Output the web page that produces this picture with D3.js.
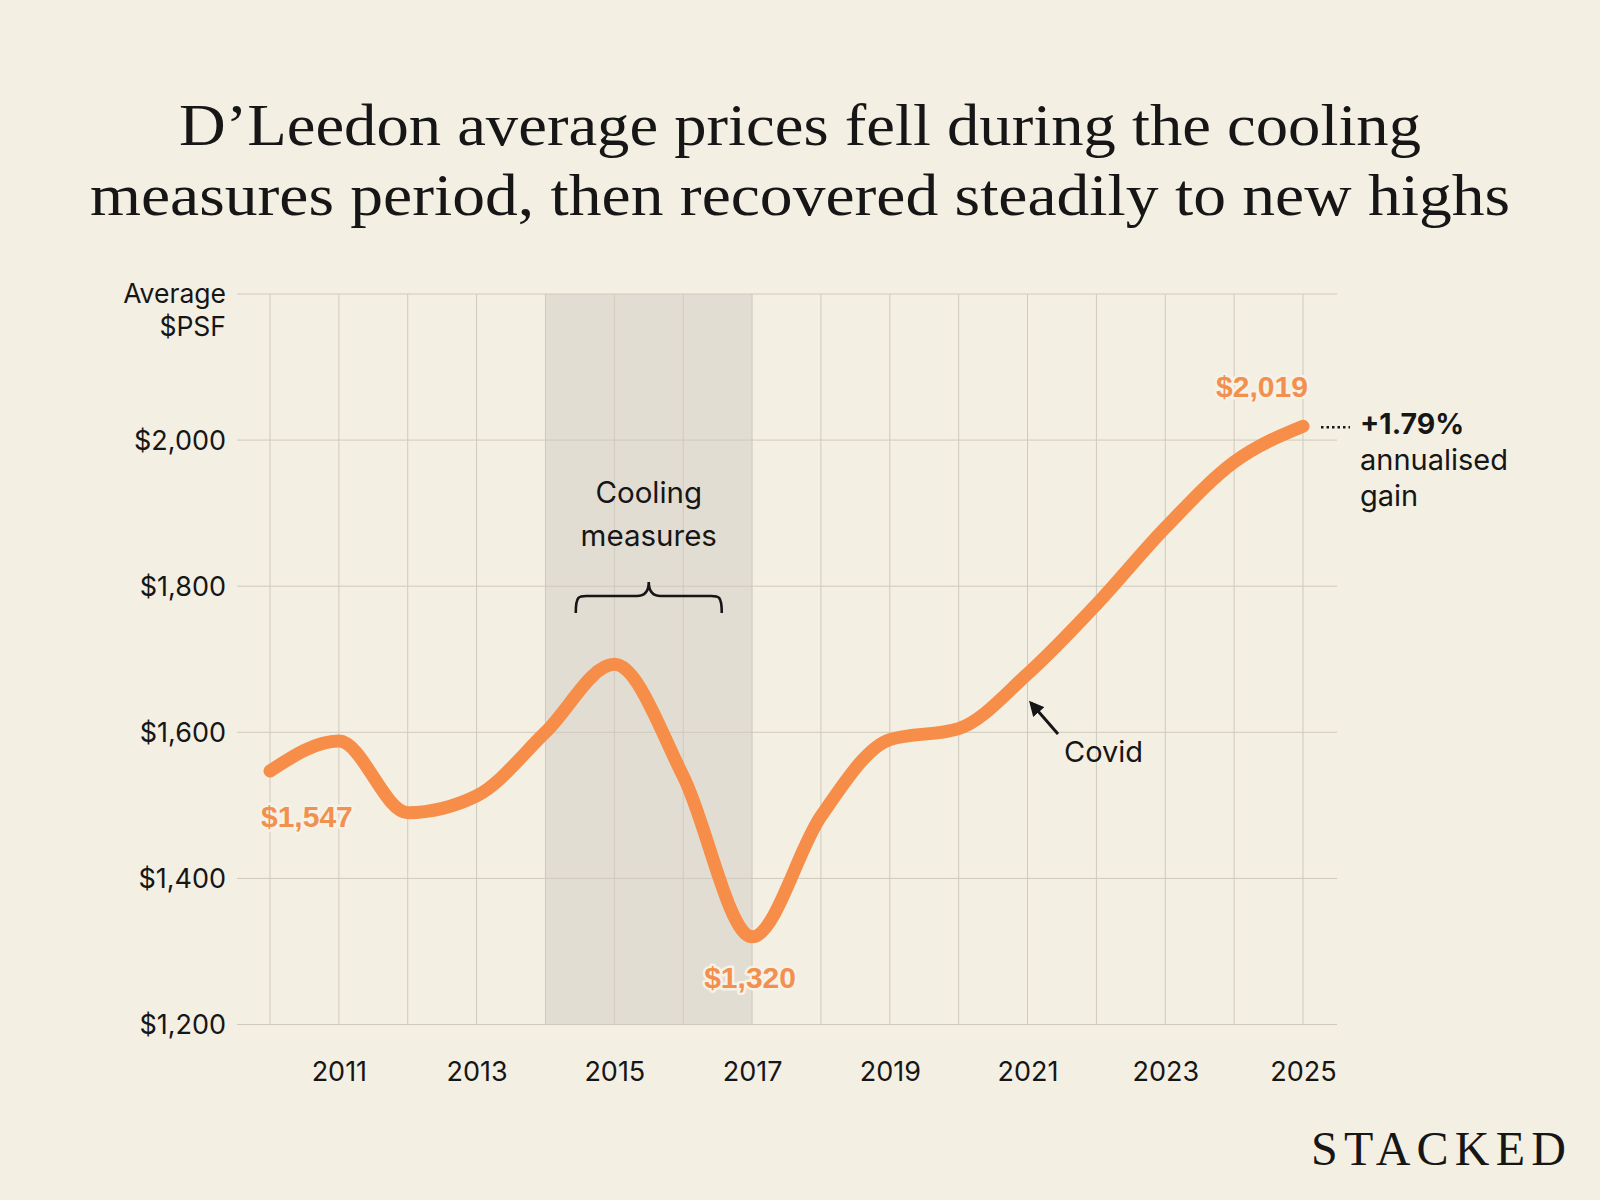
<!DOCTYPE html>
<html>
<head>
<meta charset="utf-8">
<script src="https://cdn.jsdelivr.net/npm/d3@7"></script>
<style>
  html, body { margin: 0; padding: 0; background: #f4efe3; }
  svg { display: block; }
</style>
</head>
<body>
<svg id="chart" width="1600" height="1200"></svg>
<script>
// ---- Data ----
const years = [2010, 2011, 2012, 2013, 2014, 2015, 2016, 2017, 2018, 2019, 2020, 2021, 2022, 2023, 2024, 2025];
const avgPsf = [1547, 1588, 1490, 1513, 1600, 1693, 1540, 1320, 1485, 1590, 1605, 1680, 1775, 1880, 1970, 2019];
const yTicks = [1200, 1400, 1600, 1800, 2000];
const yGrid = [1200, 1400, 1600, 1800, 2000, 2200];
const xTickLabels = [2011, 2013, 2015, 2017, 2019, 2021, 2023, 2025];
const coolingPeriod = [2014, 2017];
const titleLines = ["D\u2019Leedon average prices fell during the cooling", "measures period, then recovered steadily to new highs"];

const svg = d3.select("#chart");
const W = 1600, H = 1200;
const sans = "Inter, 'Liberation Sans', Arial, sans-serif";
const serif = "'Liberation Serif', 'DejaVu Serif', serif";
const orange = "#f68d48";
const labelOrange = "#f2904f";
const ink = "#161616";

svg.append("rect").attr("width", W).attr("height", H).attr("fill", "#f4efe3");

const x = d3.scaleLinear().domain([2010, 2025]).range([270, 1303]);
const y = d3.scaleLinear().domain([1200, 2200]).range([1024.5, 294]);
const gridLeft = 237, gridRight = 1337;

// Title
svg.append("g").selectAll("text").data(titleLines).join("text")
  .attr("x", W / 2)
  .attr("y", (d, i) => 145 + i * 70)
  .attr("text-anchor", "middle")
  .attr("font-family", serif)
  .attr("font-size", 60)
  .attr("fill", ink)
  .attr("textLength", (d, i) => i === 0 ? 1242 : 1420)
  .attr("lengthAdjust", "spacingAndGlyphs")
  .text(d => d);

// Cooling shading
svg.append("rect")
  .attr("x", x(coolingPeriod[0]))
  .attr("y", y(2200))
  .attr("width", x(coolingPeriod[1]) - x(coolingPeriod[0]))
  .attr("height", y(1200) - y(2200))
  .attr("fill", "#e2ddd2");

// Grid
const grid = svg.append("g").attr("stroke", "#cfc9bd").attr("stroke-width", 1);
grid.selectAll("line.h").data(yGrid).join("line")
  .attr("class", "h")
  .attr("x1", gridLeft).attr("x2", gridRight)
  .attr("y1", d => y(d)).attr("y2", d => y(d));
grid.selectAll("line.v").data(years).join("line")
  .attr("class", "v")
  .attr("x1", d => x(d)).attr("x2", d => x(d))
  .attr("y1", y(2200)).attr("y2", y(1200));

// Y axis labels
const yAxis = d3.axisLeft(y).tickValues(yTicks).tickSize(0).tickPadding(0)
  .tickFormat(d => "$" + d3.format(",")(d));
const yg = svg.append("g").attr("transform", `translate(226,0)`).call(yAxis);
yg.select(".domain").remove();
yg.selectAll("text")
  .attr("font-family", sans).attr("font-size", 27).attr("fill", ink)
  .attr("dy", "0.35em");

svg.append("text").attr("x", 226).attr("y", 303).attr("text-anchor", "end")
  .attr("font-family", sans).attr("font-size", 26.5).attr("fill", ink).text("Average");
svg.append("text").attr("x", 226).attr("y", 336).attr("text-anchor", "end")
  .attr("font-family", sans).attr("font-size", 26.5).attr("fill", ink).text("$PSF");

// X axis labels
const xAxis = d3.axisBottom(x).tickValues(xTickLabels).tickSize(0).tickPadding(0)
  .tickFormat(d3.format("d"));
const xg = svg.append("g").attr("transform", `translate(0,1062)`).call(xAxis);
xg.select(".domain").remove();
xg.selectAll("text")
  .attr("font-family", sans).attr("font-size", 27).attr("fill", ink)
  .attr("dy", "0.71em");

// Line
const data = years.map((yr, i) => ({ yr, v: avgPsf[i] }));
const line = d3.line().x(d => x(d.yr)).y(d => y(d.v)).curve(d3.curveMonotoneX);
svg.append("path").datum(data)
  .attr("d", line)
  .attr("fill", "none")
  .attr("stroke", orange)
  .attr("stroke-width", 13)
  .attr("stroke-linecap", "round")
  .attr("stroke-linejoin", "round");

// Value labels
function valueLabel(yr, dx, dy, anchor) {
  const v = avgPsf[years.indexOf(yr)];
  svg.append("text")
    .attr("x", x(yr) + dx).attr("y", y(v) + dy)
    .attr("text-anchor", anchor)
    .attr("font-family", "'Liberation Sans', Arial, sans-serif")
    .attr("font-weight", "bold")
    .attr("font-size", 30)
    .attr("fill", labelOrange)
    .attr("stroke", "#f7f2e8").attr("stroke-width", 5).attr("paint-order", "stroke")
    .attr("stroke-linejoin", "round")
    .text("$" + d3.format(",")(v));
}
valueLabel(2010, -9, 56, "start");
valueLabel(2017, -2, 51, "middle");
valueLabel(2025, -41, -29, "middle");

// Cooling measures annotation
const coolX = (x(2015) + x(2016)) / 2;
svg.append("text").attr("x", coolX).attr("y", 503).attr("text-anchor", "middle")
  .attr("font-family", sans).attr("font-size", 29.5).attr("fill", ink).text("Cooling");
svg.append("text").attr("x", coolX).attr("y", 546).attr("text-anchor", "middle")
  .attr("font-family", sans).attr("font-size", 29.5).attr("fill", ink).text("measures");

const bL = coolX - 73, bR = coolX + 73, bTop = 582, bMid = 596, bBot = 613;
const brace = `M${bL},${bBot} C${bL},${bMid - 2} ${bL + 4},${bMid} ${bL + 14},${bMid} L${coolX - 12},${bMid} C${coolX - 4},${bMid} ${coolX},${bMid - 4} ${coolX},${bTop} C${coolX},${bMid - 4} ${coolX + 4},${bMid} ${coolX + 12},${bMid} L${bR - 14},${bMid} C${bR - 4},${bMid} ${bR},${bMid - 2} ${bR},${bBot}`;
svg.append("path").attr("d", brace).attr("fill", "none").attr("stroke", ink).attr("stroke-width", 2.6);

// Covid annotation
svg.append("defs").append("marker")
  .attr("id", "arrow").attr("viewBox", "0 0 10 10").attr("refX", 8).attr("refY", 5)
  .attr("markerWidth", 5).attr("markerHeight", 5).attr("orient", "auto-start-reverse")
  .append("path").attr("d", "M0,0 L10,5 L0,10 z").attr("fill", ink);
svg.append("line")
  .attr("x1", 1058).attr("y1", 734).attr("x2", 1031).attr("y2", 703)
  .attr("stroke", ink).attr("stroke-width", 3)
  .attr("marker-end", "url(#arrow)");
svg.append("text").attr("x", 1064).attr("y", 762)
  .attr("font-family", sans).attr("font-size", 29).attr("fill", ink).text("Covid");

// Annualised gain annotation
const endY = y(avgPsf[avgPsf.length - 1]);
svg.append("line")
  .attr("x1", 1321).attr("x2", 1350).attr("y1", endY + 1).attr("y2", endY + 1)
  .attr("stroke", ink).attr("stroke-width", 2.5).attr("stroke-dasharray", "2.5,3");
svg.append("text").attr("x", 1360).attr("y", 434)
  .attr("font-family", sans).attr("font-weight", "bold").attr("font-size", 28.5).attr("fill", ink).text("+1.79%");
svg.append("text").attr("x", 1360).attr("y", 470)
  .attr("font-family", sans).attr("font-size", 29).attr("fill", ink).text("annualised");
svg.append("text").attr("x", 1360).attr("y", 506)
  .attr("font-family", sans).attr("font-size", 29).attr("fill", ink).text("gain");

// Logo
svg.append("text").attr("x", 1311).attr("y", 1165)
  .attr("font-family", serif).attr("font-size", 48).attr("fill", ink)
  .attr("textLength", 255).attr("lengthAdjust", "spacing")
  .text("STACKED");
</script>
</body>
</html>
